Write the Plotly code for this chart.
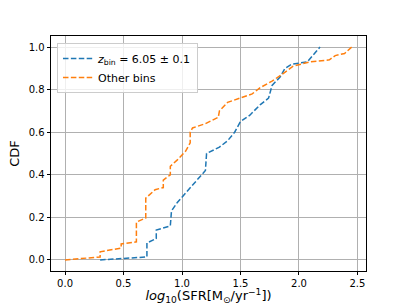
import plotly.graph_objects as go

# Blue: z_bin = 6.05 ± 0.1 (empirical CDF vertices)
blue_x = [0.30, 0.70, 0.70, 0.78, 0.78, 0.90, 0.91, 0.96, 1.04, 1.20, 1.21, 1.32, 1.39, 1.45,
          1.50, 1.58, 1.67, 1.74, 1.77, 1.84, 1.88, 1.94, 2.07, 2.12, 2.18]
blue_y = [0.0, 0.014, 0.08, 0.10, 0.14, 0.16, 0.23, 0.27, 0.32, 0.42, 0.50, 0.53, 0.56, 0.60,
          0.65, 0.68, 0.73, 0.76, 0.82, 0.86, 0.90, 0.92, 0.93, 0.96, 1.00]

# Orange: other bins
orange_x = [0.0, 0.30, 0.30, 0.48, 0.48, 0.61, 0.61, 0.69, 0.69, 0.77, 0.84, 0.84, 0.90, 0.90,
            0.96, 1.03, 1.07, 1.07, 1.09, 1.20, 1.31, 1.32, 1.39, 1.50, 1.60, 1.67, 1.77, 1.85,
            1.95, 2.09, 2.26, 2.31, 2.39, 2.45]
orange_y = [0.0, 0.014, 0.038, 0.056, 0.075, 0.085, 0.178, 0.197, 0.29, 0.33, 0.34, 0.375, 0.40,
            0.44, 0.47, 0.51, 0.55, 0.60, 0.62, 0.64, 0.67, 0.70, 0.74, 0.76, 0.78, 0.81, 0.84,
            0.87, 0.91, 0.93, 0.94, 0.96, 0.97, 1.00]

x_ticks = [0.0, 0.5, 1.0, 1.5, 2.0, 2.5]
y_ticks = [0.0, 0.2, 0.4, 0.6, 0.8, 1.0]

FONT = "DejaVu Sans"
dash = "5.5px,2.4px"

fig = go.Figure()
fig.add_trace(go.Scatter(x=blue_x, y=blue_y, mode="lines",
                         name="<i>z</i><sub>bin</sub> = 6.05 ± 0.1",
                         line=dict(color="#1f77b4", width=1.5, dash=dash)))
fig.add_trace(go.Scatter(x=orange_x, y=orange_y, mode="lines",
                         name="Other bins",
                         line=dict(color="#ff7f0e", width=1.5, dash=dash)))

axis_common = dict(
    showgrid=True, gridcolor="#b0b0b0", gridwidth=0.8,
    showline=True, linecolor="black", linewidth=0.8, mirror=True,
    ticks="outside", ticklen=3.5, tickwidth=0.8, tickcolor="black",
    zeroline=False, tickfont=dict(family=FONT, size=10, color="black"),
    tickformat=".1f", automargin=False,
)

fig.update_layout(
    width=407, height=305,
    margin=dict(l=51, r=41, t=36, b=34),
    paper_bgcolor="white", plot_bgcolor="white",
    font=dict(family=FONT, color="black"),
    showlegend=True,
    legend=dict(x=0.019, y=0.97, xanchor="left", yanchor="top",
                bgcolor="rgba(255,255,255,0.8)", bordercolor="#cccccc", borderwidth=1,
                font=dict(family=FONT, size=11), tracegroupgap=0, itemwidth=30),
    xaxis=dict(range=[-0.12, 2.573], tickvals=x_ticks, **axis_common,
               title=dict(text="<i>log</i><sub>10</sub>(SFR[M<sub>⊙</sub>/yr<sup>−1</sup>])",
                          font=dict(family=FONT, size=13), standoff=0)),
    yaxis=dict(range=[-0.052, 1.052], tickvals=y_ticks, **axis_common,
               title=dict(text="CDF", font=dict(family=FONT, size=13), standoff=6)),
)

fig.write_html("out.html", config={"displayModeBar": False},
               post_script="document.body.style.margin='0';document.body.style.overflow='hidden';")
